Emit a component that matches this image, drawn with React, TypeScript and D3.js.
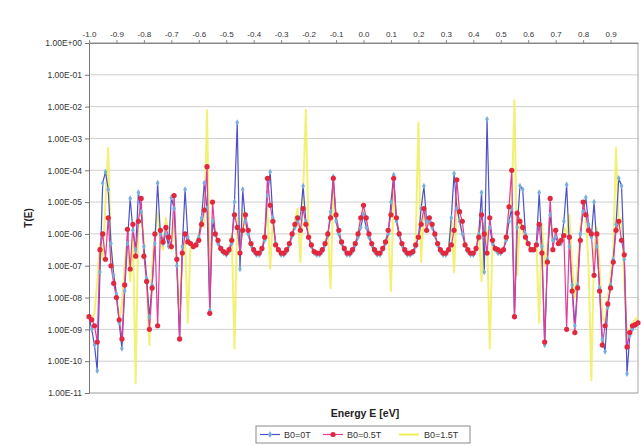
import React, { useRef, useEffect } from "react";
import * as d3 from "d3";

// energy labels along the top axis
const energyTicks = [
  -1.0, -0.9, -0.8, -0.7, -0.6, -0.5, -0.4, -0.3, -0.2, -0.1, 0.0, 0.1, 0.2,
  0.3, 0.4, 0.5, 0.6, 0.7, 0.8, 0.9,
];

const decadeTicks = [1, 1e-1, 1e-2, 1e-3, 1e-4, 1e-5, 1e-6, 1e-7, 1e-8, 1e-9, 1e-10, 1e-11];
const decadeLabels = [
  "1.00E+00", "1.00E-01", "1.00E-02", "1.00E-03", "1.00E-04", "1.00E-05",
  "1.00E-06", "1.00E-07", "1.00E-08", "1.00E-09", "1.00E-10", "1.00E-11",
];

const seriesNames = ["B0=0T", "B0=0.5T", "B0=1.5T"];

// T(E), E from -1.00 to 1.00 eV in 0.01 steps
const tB00 = [
  2.5e-9, 1e-9, 3.2e-10, 5e-11, 6.3e-8, 4e-5, 8.9e-5, 2.5e-5, 5e-7, 5e-8,
  1.3e-8, 1.6e-9, 2.5e-10, 1.6e-8, 5e-7, 1.3e-5, 1.3e-6, 3.2e-7, 2e-5, 5e-6,
  4e-7, 4e-8, 2.5e-9, 2.5e-8, 5e-7, 4e-5, 1e-6, 5e-7, 1e-6, 4e-7,
  1.4e-5, 6.3e-6, 1e-7, 5e-10, 4e-7, 2.5e-5, 7.9e-7, 5e-7, 4e-7, 5e-7,
  7.9e-7, 3.2e-6, 4e-5, 6.3e-6, 4e-9, 2.5e-6, 1e-6, 5e-7, 3.2e-7, 2.5e-7,
  2.2e-7, 2.8e-7, 5e-7, 1e-5, 3.2e-3, 7.9e-8, 2.5e-5, 2.5e-6, 1e-6, 4.5e-7,
  2.8e-7, 2.2e-7, 2.2e-7, 3.2e-7, 6.3e-7, 1.6e-5, 8.9e-5, 3.2e-6, 5e-7, 3.2e-7,
  2.2e-7, 2.2e-7, 2.8e-7, 4.5e-7, 8.9e-7, 1.6e-6, 2.5e-6, 3.2e-6, 3.2e-5, 2.5e-6,
  7.9e-7, 4e-7, 2.5e-7, 2.2e-7, 2.2e-7, 2.8e-7, 4.5e-7, 8.9e-7, 5e-6, 6.3e-5,
  2.5e-6, 1e-6, 5e-7, 3.2e-7, 2.2e-7, 2.2e-7, 2.8e-7, 4.5e-7, 7.9e-7, 1.6e-6,
  4e-6, 1.6e-6, 7.9e-7, 4.5e-7, 2.8e-7, 2.2e-7, 2.2e-7, 3.2e-7, 5e-7, 1e-6,
  1e-5, 7.1e-5, 2.5e-6, 8.9e-7, 4.5e-7, 2.8e-7, 2.2e-7, 2.2e-7, 2.5e-7, 4e-7,
  7.9e-7, 6.3e-6, 3.2e-5, 2.5e-6, 2.5e-6, 1.6e-6, 8.9e-7, 4.5e-7, 2.8e-7, 2.2e-7,
  2.2e-7, 3.2e-7, 3.2e-6, 7.9e-5, 6.3e-6, 2.5e-6, 1e-6, 4.5e-7, 2.8e-7, 2.2e-7,
  2.2e-7, 3.2e-7, 1e-6, 2e-5, 6.3e-8, 4e-3, 1.6e-6, 5e-7, 3.2e-7, 2.5e-7,
  2.5e-7, 3.2e-7, 6.3e-7, 2.5e-6, 6.3e-6, 2.5e-9, 1.6e-6, 3.2e-5, 2.5e-5, 1e-6,
  5e-7, 3.2e-7, 3.2e-7, 5e-7, 2e-5, 4e-7, 3.2e-10, 1.6e-7, 4e-6, 6.3e-7,
  7.9e-7, 5e-7, 5e-7, 2.5e-6, 3.5e-5, 4e-7, 2.5e-8, 1.3e-9, 2.5e-8, 1e-6,
  5e-6, 1.4e-5, 2e-6, 7.9e-7, 1e-5, 4e-7, 2e-8, 5e-10, 2e-10, 5e-9,
  2.5e-8, 1.6e-7, 2e-6, 5.6e-5, 3.2e-5, 1.6e-7, 4e-11, 6.3e-10, 1e-9, 1.3e-9,
  1.6e-9,
];

const tB05 = [
  2.5e-9, 2e-9, 1.3e-9, 4e-10, 3.2e-7, 1e-6, 1.6e-7, 3.2e-6, 1e-7, 2.8e-8,
  1e-8, 2e-9, 5e-10, 2.5e-8, 1.4e-6, 7.9e-8, 2e-6, 2e-7, 2.5e-6, 1.3e-5,
  2e-7, 3.2e-8, 1e-9, 2e-8, 1e-6, 1.3e-9, 1.3e-6, 5.6e-7, 1.6e-6, 7.9e-7,
  4e-7, 1.6e-5, 1.6e-7, 5e-10, 2.5e-7, 1e-6, 5.6e-7, 5e-7, 4e-7, 4.5e-7,
  6.3e-7, 2e-6, 5.6e-6, 1.3e-4, 3.2e-9, 1e-5, 1e-6, 6.3e-7, 3.5e-7, 2.8e-7,
  2.5e-7, 3.2e-7, 6.3e-7, 4e-6, 1.6e-6, 2.5e-7, 1.3e-6, 4e-6, 1.3e-6, 5e-7,
  3.2e-7, 2.5e-7, 2.5e-7, 3.5e-7, 7.9e-7, 5.6e-5, 7.9e-6, 2.5e-6, 4.5e-7, 3.2e-7,
  2.5e-7, 2.5e-7, 3.2e-7, 5e-7, 1e-6, 2e-6, 3.2e-6, 1.3e-6, 6.3e-6, 2e-6,
  7.9e-7, 4.5e-7, 2.8e-7, 2.5e-7, 2.5e-7, 3.2e-7, 5e-7, 1e-6, 3.2e-6, 5.6e-5,
  4e-6, 1.3e-6, 5.6e-7, 3.5e-7, 2.5e-7, 2.5e-7, 3.2e-7, 5e-7, 1e-6, 3.2e-6,
  7.9e-6, 3.2e-6, 1e-6, 5e-7, 3.2e-7, 2.5e-7, 2.5e-7, 3.5e-7, 5.6e-7, 1.3e-6,
  4e-6, 5.6e-5, 3.2e-6, 1e-6, 5e-7, 3.2e-7, 2.5e-7, 2.5e-7, 2.8e-7, 4.5e-7,
  7.9e-7, 2e-6, 6.3e-6, 1.3e-6, 3.2e-6, 2e-6, 1e-6, 5e-7, 3.2e-7, 2.5e-7,
  2.5e-7, 3.2e-7, 4.5e-7, 1.3e-6, 5e-5, 5e-6, 2.5e-6, 4.5e-7, 3.2e-7, 2.5e-7,
  2.5e-7, 3.5e-7, 7.9e-7, 4e-6, 1e-6, 2.5e-7, 3.2e-6, 6.3e-7, 3.5e-7, 3.2e-7,
  2.8e-7, 3.2e-7, 7.9e-7, 7.1e-6, 1e-4, 2.5e-9, 4.5e-6, 2.5e-6, 1.6e-6, 7.9e-7,
  5e-7, 3.2e-7, 3.2e-7, 4.5e-7, 2e-6, 2.5e-7, 4e-10, 1.3e-7, 1.3e-5, 3.2e-7,
  1.3e-6, 5e-7, 6.3e-7, 8.9e-7, 1e-9, 7.9e-7, 1.6e-8, 7.9e-10, 2e-8, 6.3e-7,
  1e-5, 4e-6, 1.3e-6, 1e-6, 5e-8, 1e-6, 1.6e-8, 3.2e-10, 1.3e-9, 6.3e-9,
  2e-8, 1.3e-7, 1.3e-6, 2.5e-6, 6.3e-7, 2.2e-7, 2.8e-10, 7.9e-10, 1.3e-9, 1.4e-9,
  1.6e-9,
];

const tB15 = [
  2.5e-9, 2e-9, 3.2e-9, 3.2e-8, 5e-7, 1.6e-7, 1e-5, 5e-4, 3.2e-7, 5e-8,
  1.3e-8, 2e-9, 6.3e-9, 1e-7, 6.3e-7, 3.2e-8, 1e-6, 2e-11, 3.2e-6, 5e-6,
  6.3e-7, 3.2e-8, 3.2e-10, 1e-7, 1e-6, 5e-6, 5e-7, 3.2e-7, 3.2e-6, 1e-6,
  3.2e-7, 3.2e-6, 1e-7, 3.2e-9, 2.5e-7, 6.3e-7, 1.6e-9, 5e-7, 4e-7, 5e-7,
  1e-6, 3.2e-6, 1.6e-6, 7.9e-3, 3.2e-8, 3.2e-6, 1e-6, 5e-7, 3.2e-7, 2.5e-7,
  2.5e-7, 3.2e-7, 1e-6, 2.5e-10, 3.2e-6, 4e-7, 5e-6, 2e-6, 1e-6, 5e-7,
  3.2e-7, 2.5e-7, 2.5e-7, 3.5e-7, 1e-6, 6.3e-6, 7.9e-8, 3.2e-6, 5e-7, 3.2e-7,
  2.5e-7, 2.5e-7, 3.2e-7, 5e-7, 1e-6, 2.5e-6, 6.3e-6, 1.3e-7, 2e-5, 7.9e-3,
  1e-6, 4.5e-7, 2.8e-7, 2.5e-7, 2.5e-7, 3.2e-7, 5e-7, 1.3e-6, 2e-8, 2.5e-5,
  3.2e-6, 1e-6, 5e-7, 3.2e-7, 2.5e-7, 2.5e-7, 3.2e-7, 5e-7, 1e-6, 3.2e-6,
  6.3e-6, 2.5e-6, 1e-6, 5e-7, 3.2e-7, 2.5e-7, 2.5e-7, 3.2e-7, 5e-7, 1.3e-6,
  1.6e-8, 2.5e-5, 2.5e-6, 1e-6, 5e-7, 3.2e-7, 2.5e-7, 2.5e-7, 2.8e-7, 5e-7,
  3.2e-3, 1.3e-7, 5e-6, 1.6e-6, 2.5e-6, 1.6e-6, 1e-6, 5e-7, 3.2e-7, 2.5e-7,
  2.5e-7, 3.2e-7, 3.2e-6, 6.3e-8, 1.3e-5, 2.5e-6, 1e-6, 5e-7, 3.2e-7, 2.5e-7,
  2.5e-7, 3.2e-7, 1.6e-6, 3.2e-8, 2.5e-6, 1e-6, 2.5e-10, 6.3e-7, 3.2e-7, 2.5e-7,
  2.5e-7, 3.2e-7, 1e-6, 3.2e-6, 1e-5, 1.6e-2, 5e-8, 3.2e-6, 1.3e-6, 6.3e-7,
  4e-7, 3.2e-7, 3.2e-7, 5e-7, 1.6e-9, 2e-6, 1e-7, 4e-7, 5e-6, 5e-7,
  1e-6, 6.3e-7, 5e-7, 1.6e-6, 1e-6, 4e-6, 1e-7, 1e-8, 1e-7, 1.6e-6,
  6.3e-6, 3.2e-6, 1e-7, 2.5e-11, 3.2e-7, 1.6e-6, 1e-7, 2.5e-9, 1.6e-9, 1e-8,
  5e-8, 3.2e-7, 5e-4, 1.6e-6, 3.2e-6, 3.2e-8, 5e-10, 1e-9, 1.6e-9, 2e-9,
  2.5e-9,
];

const FONT = "'Liberation Sans', Arial, sans-serif";

const App: React.FC = () => {
  const chartRef = useRef<SVGSVGElement | null>(null);

  useEffect(() => {
    if (!chartRef.current) return;
    const svg = d3.select(chartRef.current);
    svg.selectAll("*").remove();

    const left = 89;
    const right = 638;
    const top = 43;
    const bottom = 393;

    const energies = d3.range(tB05.length).map((i) => -1 + i * 0.01);

    const xScale = d3.scaleLinear().domain([-1, 1]).range([left, right]);
    const yScale = d3.scaleLog().domain([1e-11, 1]).range([bottom, top]);

    // gridlines
    svg
      .append("g")
      .selectAll("line")
      .data(decadeTicks)
      .enter()
      .append("line")
      .attr("x1", left)
      .attr("x2", right)
      .attr("y1", (d) => yScale(d))
      .attr("y2", (d) => yScale(d))
      .attr("stroke", (d) => (d === 1 ? "#8a8a8a" : d === 1e-11 ? "#9a9a9a" : "#cfcfcf"))
      .attr("stroke-width", 1);

    // right border
    svg
      .append("line")
      .attr("x1", right)
      .attr("x2", right)
      .attr("y1", top)
      .attr("y2", bottom)
      .attr("stroke", "#a8a8a8");

    // left axis
    const yAxis = svg
      .append("g")
      .attr("transform", `translate(${left},0)`)
      .call(
        d3
          .axisLeft(yScale)
          .tickValues(decadeTicks)
          .tickFormat((_, i) => decadeLabels[i])
          .tickSize(4)
          .tickSizeOuter(0)
      );
    yAxis.select(".domain").attr("stroke", "#777");
    yAxis.selectAll(".tick line").attr("stroke", "#777");
    yAxis
      .selectAll(".tick text")
      .attr("font-family", FONT)
      .attr("font-size", 8.5)
      .attr("fill", "#333")
      .attr("x", -7);

    // top axis
    const xAxis = svg
      .append("g")
      .attr("transform", `translate(0,${top})`)
      .call(
        d3
          .axisTop(xScale)
          .tickValues(energyTicks)
          .tickFormat((d) => (d as number).toFixed(1))
          .tickSize(3)
          .tickSizeOuter(0)
      );
    xAxis.select(".domain").attr("stroke", "#888");
    xAxis.selectAll(".tick line").attr("stroke", "#888");
    xAxis
      .selectAll(".tick text")
      .attr("font-family", FONT)
      .attr("font-size", 8)
      .attr("fill", "#333")
      .attr("y", -6);

    const series = [
      { name: seriesNames[2], values: tB15, color: "#eeee52", width: 2, opacity: 0.8 },
      { name: seriesNames[0], values: tB00, color: "#4b52c6", width: 1.2, opacity: 1 },
      { name: seriesNames[1], values: tB05, color: "#e23c9a", width: 1.2, opacity: 1 },
    ];

    const line = d3
      .line<number>()
      .x((_, i) => xScale(energies[i]))
      .y((d) => yScale(d));

    const plot = svg.append("g");

    series.forEach((s) => {
      plot
        .append("path")
        .datum(s.values)
        .attr("fill", "none")
        .attr("stroke", s.color)
        .attr("stroke-width", s.width)
        .attr("stroke-opacity", s.opacity)
        .attr("stroke-linejoin", "round")
        .attr("d", line);
    });

    // blue markers
    plot
      .append("g")
      .selectAll("path")
      .data(tB00)
      .enter()
      .append("path")
      .attr(
        "transform",
        (d, i) => `translate(${xScale(energies[i])},${yScale(d)})`
      )
      .attr("d", d3.symbol().type(d3.symbolDiamond).size(12)())
      .attr("fill", "#78aee0");

    // red markers
    plot
      .append("g")
      .selectAll("circle")
      .data(tB05)
      .enter()
      .append("circle")
      .attr("cx", (_, i) => xScale(energies[i]))
      .attr("cy", (d) => yScale(d))
      .attr("r", 2.6)
      .attr("fill", "#e2283e");

    // axis titles
    svg
      .append("text")
      .attr("transform", "translate(32,218) rotate(-90)")
      .attr("text-anchor", "middle")
      .attr("font-family", FONT)
      .attr("font-weight", "bold")
      .attr("font-size", 10)
      .attr("fill", "#222")
      .text("T(E)");

    svg
      .append("text")
      .attr("x", 365)
      .attr("y", 417)
      .attr("text-anchor", "middle")
      .attr("font-family", FONT)
      .attr("font-weight", "bold")
      .attr("font-size", 10.5)
      .attr("fill", "#222")
      .text("Energy E [eV]");

    // legend
    const legend = svg.append("g");
    legend
      .append("rect")
      .attr("x", 256)
      .attr("y", 426)
      .attr("width", 214)
      .attr("height", 17)
      .attr("fill", "#fff")
      .attr("stroke", "#8a8a8a");

    const legendItems = [
      { name: seriesNames[0], color: "#4b52c6", marker: "diamond", x0: 260, tx: 284 },
      { name: seriesNames[1], color: "#e23c9a", marker: "circle", x0: 323, tx: 347 },
      { name: seriesNames[2], color: "#eeee52", marker: "none", x0: 399, tx: 424 },
    ];
    legendItems.forEach((it) => {
      legend
        .append("line")
        .attr("x1", it.x0)
        .attr("x2", it.x0 + 20)
        .attr("y1", 434.5)
        .attr("y2", 434.5)
        .attr("stroke", it.color)
        .attr("stroke-width", it.marker === "none" ? 2 : 1.2);
      if (it.marker === "diamond") {
        legend
          .append("path")
          .attr("transform", `translate(${it.x0 + 10},434.5)`)
          .attr("d", d3.symbol().type(d3.symbolDiamond).size(14)())
          .attr("fill", "#78aee0");
      } else if (it.marker === "circle") {
        legend
          .append("circle")
          .attr("cx", it.x0 + 10)
          .attr("cy", 434.5)
          .attr("r", 2.6)
          .attr("fill", "#e2283e");
      }
      legend
        .append("text")
        .attr("x", it.tx)
        .attr("y", 438)
        .attr("font-family", FONT)
        .attr("font-size", 9)
        .attr("fill", "#333")
        .text(it.name);
    });
  }, []);

  return (
    <svg
      ref={chartRef}
      width={641}
      height={446}
      style={{ position: "absolute", left: 0, top: 0, background: "#fff" }}
    ></svg>
  );
};

export default App;
